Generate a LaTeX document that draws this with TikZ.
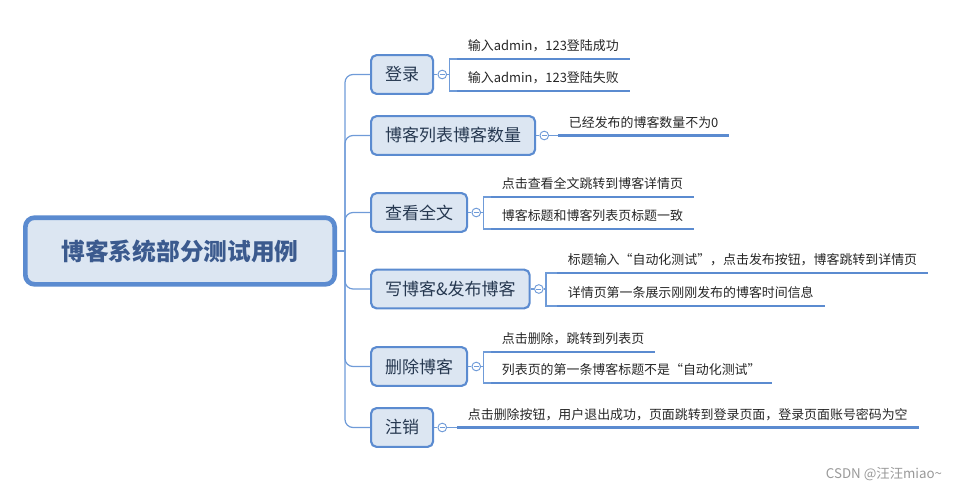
\documentclass[tikz,border=0pt]{standalone}
\usepackage{fontspec}
\setmainfont{Noto Sans CJK SC}
\usetikzlibrary{positioning}
\definecolor{mapblue}{HTML}{5B8BD0}
\definecolor{mapfill}{HTML}{DCE6F2}
\definecolor{mapline}{HTML}{6F9BD8}
\definecolor{maptext}{HTML}{263850}
\definecolor{maproot}{HTML}{3B5A8E}
\tikzset{
  root/.style={rounded corners=7pt,draw=mapblue,fill=mapfill,line width=3.5pt,minimum width=232pt,minimum height=50pt,font=\fontsize{17.8}{20}\selectfont\bfseries,text=maproot},
  topic/.style={rounded corners=4pt,draw=mapblue,fill=mapfill,line width=1.6pt,minimum height=29pt,inner xsep=10.5pt,font=\fontsize{12.75}{15}\selectfont,text=maptext,anchor=west},
  fold/.style={circle,draw=mapline,fill=white,line width=0.7pt,minimum size=6.5pt,inner sep=0pt,
    path picture={\draw[mapline,line width=0.6pt] ([xshift=-1.8pt]path picture bounding box.center) -- ([xshift=1.8pt]path picture bounding box.center);}},
  leaf/.style={anchor=south west,inner xsep=8pt,inner ysep=4pt,text height=8pt,text depth=2pt,font=\fontsize{9.7}{12}\selectfont,text=black!85},
  leafline/.style={draw=mapblue,line width=2.2pt},
  conn/.style={draw=mapline,line width=0.9pt},
  watermark/.style={font=\fontsize{10}{12}\selectfont,text=black!40},
}
\begin{document}
\begin{tikzpicture}[x=0.75pt,y=-0.75pt]
  \useasboundingbox (0,0) rectangle (957,492);
  % root and main topics
  \node[root] (root) at (180,251) {博客系统部分测试用例};
  \coordinate (trunk) at (345,251);
  \node[topic] (login) at (370,74.5) {登录};
  \node[topic] (count) at (370,135.5) {博客列表博客数量};
  \node[topic] (view) at (370,212.5) {查看全文};
  \node[topic] (write) at (370,289) {写博客\&发布博客};
  \node[topic] (delete) at (370,366.5) {删除博客};
  \node[topic] (logout) at (370,427.5) {注销};
  \foreach \t in {login,count,view,write,delete,logout}{
    \node[fold,right=2.5pt of \t] (\t-f) {};
    \coordinate[right=1.8pt of \t-f] (\t-b);
  }
  % leaves
  \node[leaf] (login-1) at (457,59) {输入admin，123登陆成功};
  \node[leaf] (login-2) at (457,91) {输入admin，123登陆失败};
  \node[leaf] (count-1) at (558,135.5) {已经发布的博客数量不为0};
  \node[leaf] (view-1) at (491,197) {点击查看全文跳转到博客详情页};
  \node[leaf] (view-2) at (491,229) {博客标题和博客列表页标题一致};
  \node[leaf] (write-1) at (557,273) {标题输入“自动化测试”，点击发布按钮，博客跳转到详情页};
  \node[leaf] (write-2) at (557,306) {详情页第一条展示刚刚发布的博客时间信息};
  \node[leaf] (delete-1) at (491,352) {点击删除，跳转到列表页};
  \node[leaf] (delete-2) at (491,383) {列表页的第一条博客标题不是“自动化测试”};
  \node[leaf] (logout-1) at (457,427.5) {点击删除按钮，用户退出成功，页面跳转到登录页面，登录页面账号密码为空};
  % connectors
  \draw[conn] (root) -- (trunk);
  \foreach \t in {login,count,view,write,delete,logout}{
    \draw[conn,rounded corners=6pt] (trunk) |- (\t.west);
    \draw[conn] (\t.east) -- (\t-f.west);
  }
  \foreach \t in {login,view,write,delete}{
    \draw[conn] (\t-f.east) -- (\t-b);
    \draw[conn] (\t-1.south west) -| (\t-b) |- (\t-2.south west);
  }
  \draw[conn] (count-f.east) -- (count-1.south west);
  \draw[conn] (logout-f.east) -- (logout-1.south west);
  \foreach \n in {login-1,login-2,count-1,view-1,view-2,write-1,write-2,delete-1,delete-2,logout-1}
    \draw[leafline] (\n.south west) -- (\n.south east);
  \node[watermark] (csdn) at (884,474) {CSDN @汪汪miao\textasciitilde};
\end{tikzpicture}
\end{document}
